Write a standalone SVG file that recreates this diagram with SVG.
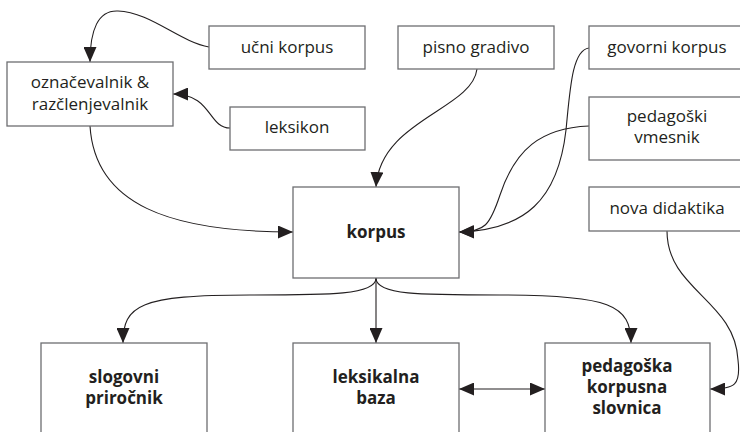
<svg xmlns="http://www.w3.org/2000/svg" width="740" height="432" viewBox="0 0 740 432">
<defs>
<style>
.box{fill:#fff;stroke:#6d6e71;stroke-width:1.3}
.t{font-family:"Open Sans","Noto Sans",sans-serif;font-size:17px;fill:#231f20;text-anchor:middle}
.b{font-weight:bold}
.c{fill:none;stroke:#231f20;stroke-width:1.1}
</style>
<marker id="ah" markerUnits="userSpaceOnUse" markerWidth="15" markerHeight="13" refX="15" refY="6.5" orient="auto-start-reverse" viewBox="0 0 15 13">
<path d="M0,0 L15,6.5 L0,13 z" fill="#231f20"/>
</marker>
</defs>
<rect width="740" height="432" fill="#fff"/>

<g id="connectors">
<path class="c" d="M209,47 C180,42 150,12 118,11 C98,10 90,30 90,62" marker-end="url(#ah)"/>
<path class="c" d="M230,128 C208,128 212,94 173,94" marker-end="url(#ah)"/>
<path class="c" d="M90,126 C95,205 170,232 293,232" marker-end="url(#ah)"/>
<path class="c" d="M477,69 C472,110 380,120 376,187" marker-end="url(#ah)"/>
<path class="c" d="M589,48 C572,50 570,90 566,130 C558,200 525,230 459,232" marker-end="url(#ah)"/>
<path class="c" d="M589,126 C540,128 515,150 500,195 C490,225 485,232 459,232" marker-end="url(#ah)"/>
<path class="c" d="M667,231 C667,290 735,300 738,360 C741,385 735,389 710,389" marker-end="url(#ah)"/>
<path class="c" d="M376,278 C376,295 330,295 250,295 C140,295 123,305 123,343" marker-end="url(#ah)"/>
<path class="c" d="M376,278 L376,343" marker-end="url(#ah)"/>
<path class="c" d="M376,278 C376,295 420,295 500,295 C610,295 631,305 631,343" marker-end="url(#ah)"/>
<path class="c" d="M459,389 L545,389" marker-start="url(#ah)" marker-end="url(#ah)"/>
</g>

<g id="ucni-korpus">
<rect class="box" x="209" y="26" width="156" height="43"/>
<text class="t" x="287" y="53">učni korpus</text>
</g>
<g id="pisno-gradivo">
<rect class="box" x="398" y="26" width="156" height="43"/>
<text class="t" x="476" y="53">pisno gradivo</text>
</g>
<g id="govorni-korpus">
<rect class="box" x="589" y="26" width="160" height="43"/>
<text class="t" x="667" y="53">govorni korpus</text>
</g>
<g id="oznacevalnik">
<rect class="box" x="7" y="62" width="166" height="64"/>
<text class="t" x="90" y="88">označevalnik &amp;</text>
<text class="t" x="90" y="110">razčlenjevalnik</text>
</g>
<g id="leksikon">
<rect class="box" x="230" y="107" width="135" height="43"/>
<text class="t" x="297" y="133">leksikon</text>
</g>
<g id="pedagoski-vmesnik">
<rect class="box" x="589" y="97" width="160" height="63"/>
<text class="t" x="667" y="122">pedagoški</text>
<text class="t" x="667" y="143">vmesnik</text>
</g>
<g id="korpus">
<rect class="box" x="293" y="187" width="166" height="91"/>
<text class="t b" x="376" y="238">korpus</text>
</g>
<g id="nova-didaktika">
<rect class="box" x="589" y="187" width="160" height="44"/>
<text class="t" x="667" y="214">nova didaktika</text>
</g>
<g id="slogovni-prirocnik">
<rect class="box" x="41" y="343" width="166" height="100"/>
<text class="t b" x="124" y="383">slogovni</text>
<text class="t b" x="124" y="404">priročnik</text>
</g>
<g id="leksikalna-baza">
<rect class="box" x="293" y="343" width="166" height="100"/>
<text class="t b" x="376" y="383">leksikalna</text>
<text class="t b" x="376" y="404">baza</text>
</g>
<g id="pedagoska-korpusna-slovnica">
<rect class="box" x="545" y="343" width="165" height="100"/>
<text class="t b" x="627" y="372">pedagoška</text>
<text class="t b" x="627" y="393">korpusna</text>
<text class="t b" x="627" y="414">slovnica</text>
</g>
</svg>
